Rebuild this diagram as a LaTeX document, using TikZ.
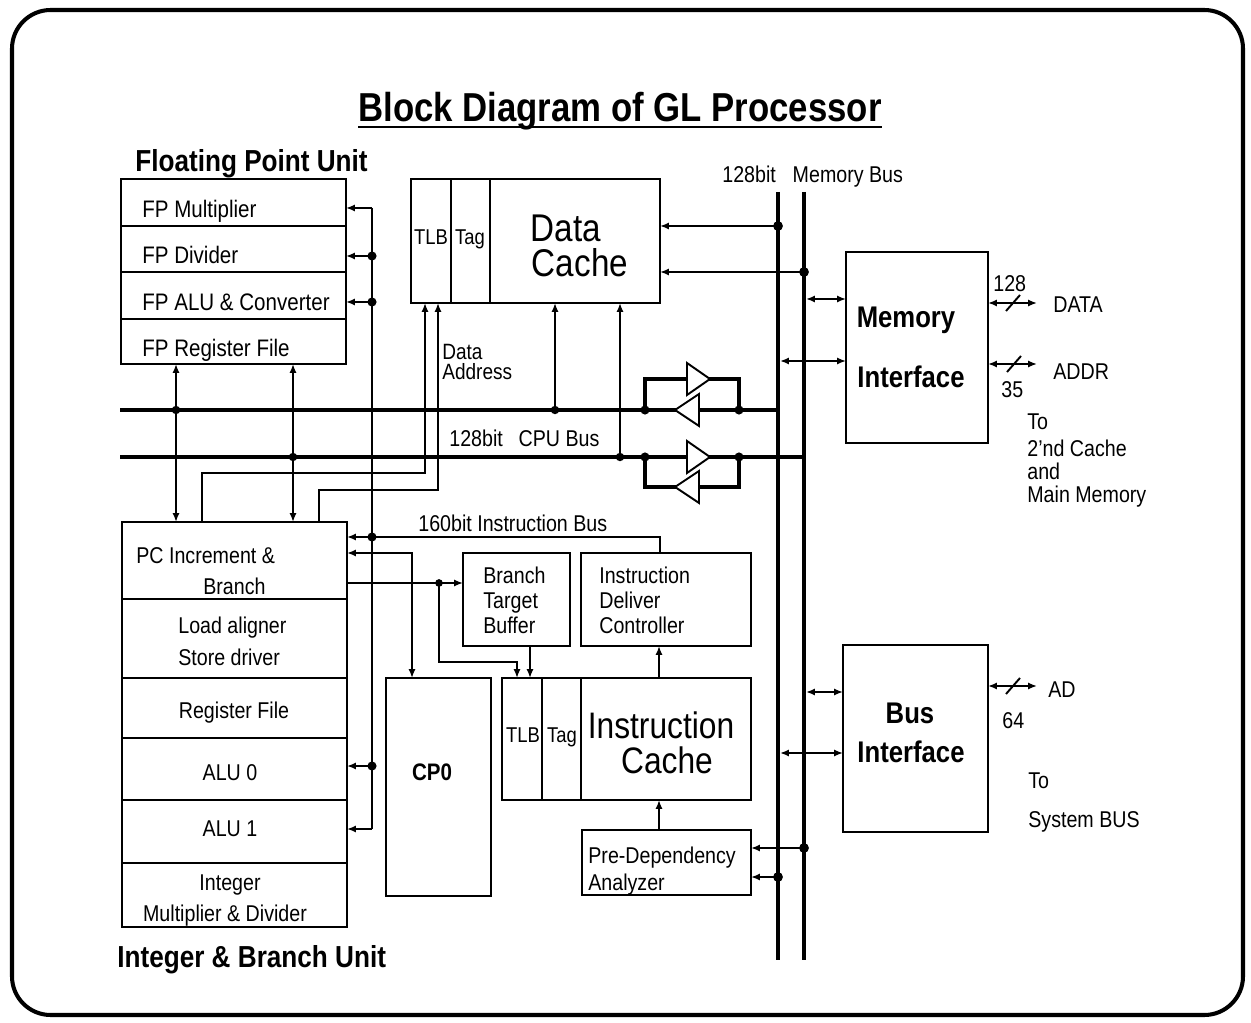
\documentclass[tikz,border=0pt]{standalone}
\usepackage{fontspec}
\setmainfont{Liberation Sans}[FakeStretch=0.86]
\usetikzlibrary{arrows.meta,fit}
\newcommand\fz[1]{\fontsize{#1pt}{#1pt}\selectfont}
\begin{document}
\begin{tikzpicture}[x=0.02cm,y=-0.02cm,
  box/.style={draw,line width=1.3pt,inner sep=0pt,outer sep=0pt},
  lbl/.style={inner sep=0pt,font=\fz{13}},
  fplbl/.style={inner sep=0pt,font=\fz{13.6},anchor=base west},
  wire/.style={line width=1.1pt},
  arr/.style={-{Latex[length=5pt,width=4pt]}},
  arrs/.style={{Latex[length=5pt,width=4pt]}-{Latex[length=5pt,width=4pt]}},
  bus/.style={line width=2.8pt},
  bypass/.style={line width=2pt},
  mbus/.style={line width=2.6pt},
  tri/.style={draw,fill=white,line width=1.1pt,line join=miter},
  dot/.style={fill=black},
  slash/.style={line width=1.1pt}]
\useasboundingbox (0,0) rectangle (1251,1023);
% frame
\draw[line width=2.3pt,rounded corners=22pt] (12,10) rectangle (1243,1015);

% title
\node[inner sep=0pt,anchor=base west,font=\bfseries\fz{23}] (title) at (358,122) {Block Diagram of GL Processor};
\draw[line width=1.6pt] ([yshift=-2.8pt]title.base west) -- ([yshift=-2.8pt]title.base east);

% ---------- Floating point unit
\node[inner sep=0pt,anchor=base west,font=\bfseries\fz{17.3}] (fputitle) at (135,172) {Floating Point Unit};
\node[box,fit={(121,179)(346,364)}] (fpu) {};
\node[box,fit={(121,179)(346,226)}] (fpmul) {};
\node[box,fit={(121,226)(346,272)}] (fpdiv) {};
\node[box,fit={(121,272)(346,319)}] (fpalu) {};
\node[box,fit={(121,319)(346,364)}] (fpreg) {};
\node[fplbl] (lfpmul) at (142,218) {FP Multiplier};
\node[fplbl] (lfpdiv) at (142,264) {FP Divider};
\node[fplbl] (lfpalu) at (142,311) {FP ALU \& Converter};
\node[fplbl] (lfpreg) at (142,357) {FP Register File};

% ---------- Integer & branch unit
\node[box,fit={(122,522)(347,927)}] (ibu) {};
\node[box,fit={(122,522)(347,599)}] (pc) {};
\node[box,fit={(122,599)(347,678)}] (ld) {};
\node[box,fit={(122,678)(347,738)}] (rf) {};
\node[box,fit={(122,738)(347,800)}] (alu0) {};
\node[box,fit={(122,800)(347,863)}] (alu1) {};
\node[box,fit={(122,863)(347,927)}] (imd) {};
\node[lbl,anchor=base west] (lpc1) at (136,563) {PC Increment \&};
\node[lbl,anchor=base west] (lpc2) at (203,595) {Branch};
\node[lbl,anchor=base west] (lld1) at (178,633) {Load aligner};
\node[lbl,anchor=base west] (lld2) at (178,665) {Store driver};
\node[lbl,anchor=base] (lrf) at (234,718) {Register File};
\node[lbl,anchor=base] (lalu0) at (230,780) {ALU 0};
\node[lbl,anchor=base] (lalu1) at (230,836) {ALU 1};
\node[lbl,anchor=base] (limd1) at (230,890) {Integer};
\node[lbl,anchor=base] (limd2) at (225,921) {Multiplier \& Divider};
\node[inner sep=0pt,anchor=base west,font=\bfseries\fz{17.3}] (ibutitle) at (117,967) {Integer \& Branch Unit};

% ---------- CP0
\node[box,fit={(386,678)(491,896)}] (cp0) {};
\node[inner sep=0pt,anchor=base,font=\bfseries\fz{13.6}] (lcp0) at (432,780) {CP0};

% ---------- Data cache
\node[box,fit={(411,179)(660,303)}] (dc) {};
\node[box,fit={(411,179)(451,303)}] (dctlb) {};
\node[box,fit={(451,179)(490,303)}] (dctag) {};
\node[lbl,anchor=base,font=\fz{12.2}] (ldctlb) at (431,245) {TLB};
\node[lbl,anchor=base,font=\fz{12.2}] (ldctag) at (470,245) {Tag};
\node[lbl,anchor=base,font=\fz{22}] (ldc1) at (566,242) {Data};
\node[lbl,anchor=base,font=\fz{22}] (ldc2) at (580,277) {Cache};

% ---------- Branch target buffer / instruction deliver controller
\node[box,fit={(463,553)(570,646)}] (btb) {};
\node[lbl,anchor=base west] (lbtb1) at (483,583) {Branch};
\node[lbl,anchor=base west] (lbtb2) at (483,608) {Target};
\node[lbl,anchor=base west] (lbtb3) at (483,633) {Buffer};
\node[box,fit={(581,553)(751,646)}] (idc) {};
\node[lbl,anchor=base west] (lidc1) at (599,583) {Instruction};
\node[lbl,anchor=base west] (lidc2) at (599,608) {Deliver};
\node[lbl,anchor=base west] (lidc3) at (599,633) {Controller};

% ---------- Instruction cache
\node[box,fit={(502,678)(751,800)}] (ic) {};
\node[box,fit={(502,678)(542,800)}] (ictlb) {};
\node[box,fit={(542,678)(581,800)}] (ictag) {};
\node[lbl,anchor=base,font=\fz{12.2}] (lictlb) at (523,742) {TLB};
\node[lbl,anchor=base,font=\fz{12.2}] (lictag) at (562,742) {Tag};
\node[lbl,anchor=base,font=\fz{21}] (lic1) at (661,738) {Instruction};
\node[lbl,anchor=base,font=\fz{21}] (lic2) at (667,773) {Cache};

% ---------- Pre-dependency analyzer
\node[box,fit={(582,830)(751,895)}] (pda) {};
\node[lbl,anchor=base west] (lpda1) at (588,863) {Pre-Dependency};
\node[lbl,anchor=base west] (lpda2) at (588,890) {Analyzer};

% ---------- Memory interface / Bus interface
\node[box,fit={(846,252)(988,443)}] (mi) {};
\node[inner sep=0pt,anchor=base,font=\bfseries\fz{17}] (lmi1) at (906,328) {Memory};
\node[inner sep=0pt,anchor=base,font=\bfseries\fz{17}] (lmi2) at (911,388) {Interface};
\node[box,fit={(843,645)(988,832)}] (bi) {};
\node[inner sep=0pt,anchor=base,font=\bfseries\fz{17}] (lbi1) at (910,723) {Bus};
\node[inner sep=0pt,anchor=base,font=\bfseries\fz{17}] (lbi2) at (911,762) {Interface};

% ---------- Memory bus
\coordinate (mbLt) at (778,192);
\coordinate (mbLb) at (778,960);
\coordinate (mbRt) at (804,192);
\coordinate (mbRb) at (804,960);
\draw[mbus] (mbLt) -- (mbLb);
\draw[mbus] (mbRt) -- (mbRb);
\node[lbl,anchor=base west] (lmb) at (722,183) {128bit\hspace{0.5em} Memory Bus};

% ---------- CPU buses
\coordinate (cb1L) at (120,410);
\coordinate (cb1R) at (778,410);
\coordinate (cb2L) at (120,457);
\coordinate (cb2R) at (804,457);
\draw[bus] (cb1L) -- (cb1R);
\draw[bus] (cb2L) -- (cb2R);
\node[lbl,anchor=base west] (lcb) at (449,447) {128bit\hspace{0.45em} CPU Bus};

% bidirectional buffers
\coordinate (bu1) at (645,410);
\coordinate (bu2) at (739,410);
\coordinate (bu3) at (645,379);
\coordinate (bu4) at (739,379);
\draw[bypass] (bu1) -- (bu3) -- (bu4) -- (bu2);
\fill[dot] (bu1) circle (2.6pt);
\fill[dot] (bu2) circle (2.6pt);
\draw[tri] (687,363) -- (710,379) -- (687,395) -- cycle;
\draw[tri] (699,394) -- (675,410) -- (699,426) -- cycle;
\coordinate (bl1) at (645,457);
\coordinate (bl2) at (739,457);
\coordinate (bl3) at (645,487);
\coordinate (bl4) at (739,487);
\draw[bypass] (bl1) -- (bl3) -- (bl4) -- (bl2);
\fill[dot] (bl1) circle (2.6pt);
\fill[dot] (bl2) circle (2.6pt);
\draw[tri] (687,441) -- (710,457) -- (687,473) -- cycle;
\draw[tri] (699,471) -- (675,487) -- (699,503) -- cycle;

% ---------- FP register file <-> integer unit
\coordinate (fr1) at (176,410);
\coordinate (fr2) at (293,457);
\draw[wire,arrs] (fr1 |- fpreg.south) -- (fr1 |- ibu.north);
\draw[wire,arrs] (fr2 |- fpreg.south) -- (fr2 |- ibu.north);
\fill[dot] (fr1) circle (2.4pt);
\fill[dot] (fr2) circle (2.4pt);

% ---------- data address lines to DC TLB
\coordinate (tl1a) at (425,473);
\coordinate (tl1b) at (202,473);
\coordinate (tl2a) at (438,490);
\coordinate (tl2b) at (319,490);
\draw[wire,arr] (tl1b |- ibu.north) -- (tl1b) -- (tl1a) -- (tl1a |- dc.south);
\draw[wire,arr] (tl2b |- ibu.north) -- (tl2b) -- (tl2a) -- (tl2a |- dc.south);
\node[lbl,anchor=base west,font=\fz{12.6}] (lda1) at (442,360) {Data};
\node[lbl,anchor=base west,font=\fz{12.6}] (lda2) at (442,380) {Address};

% DC <-> CPU buses
\coordinate (dcb1) at (555,410);
\coordinate (dcb2) at (620,457);
\draw[wire,arr] (dcb1) -- (dcb1 |- dc.south);
\draw[wire,arr] (dcb2) -- (dcb2 |- dc.south);
\fill[dot] (dcb1) circle (2.4pt);
\fill[dot] (dcb2) circle (2.4pt);

% DC <- memory bus
\coordinate (dcr1) at (778,226);
\coordinate (dcr2) at (804,272);
\draw[wire,arr] (dcr1) -- (dcr1 -| dc.east);
\draw[wire,arr] (dcr2) -- (dcr2 -| dc.east);
\fill[dot] (dcr1) circle (2.8pt);
\fill[dot] (dcr2) circle (2.8pt);

% ---------- 160bit instruction bus
\coordinate (ibT) at (372,208);
\coordinate (ibD) at (372,256);
\coordinate (ibA) at (372,302);
\coordinate (ibP) at (372,537);
\coordinate (ibA0) at (372,766);
\coordinate (ibB) at (372,829);
\coordinate (ibC) at (660,537);
\draw[wire] (ibT) -- (ibB);
\draw[wire,arr] (ibT) -- (ibT -| fpmul.east);
\draw[wire,arr] (ibD) -- (ibD -| fpdiv.east);
\draw[wire,arr] (ibA) -- (ibA -| fpalu.east);
\draw[wire,arr] (ibP) -- (ibP -| pc.east);
\draw[wire,arr] (ibA0) -- (ibA0 -| alu0.east);
\draw[wire,arr] (ibB) -- (ibB -| alu1.east);
\draw[wire] (ibP) -- (ibC) -- (ibC |- idc.north);
\fill[dot] (ibD) circle (2.6pt);
\fill[dot] (ibA) circle (2.6pt);
\fill[dot] (ibP) circle (2.6pt);
\fill[dot] (ibA0) circle (2.6pt);
\node[lbl,anchor=base west] (lib) at (418,532) {160bit Instruction Bus};

% PC <-> CP0
\coordinate (cpA) at (412,553);
\draw[wire,arrs] (cpA -| pc.east) -- (cpA) -- (cpA |- cp0.north);

% PC -> BTB, -> IC TLB
\coordinate (btbJ) at (439,583);
\coordinate (btbK) at (439,662);
\coordinate (btbL) at (517,662);
\coordinate (btbB) at (530,646);
\draw[wire,arr] (btbJ -| pc.east) -- (btbJ -| btb.west);
\draw[wire,arr] (btbJ) -- (btbK) -- (btbL) -- (btbL |- ic.north);
\draw[wire,arr] (btbB) -- (btbB |- ic.north);
\fill[dot] (btbJ) circle (2.2pt);

% IC -> IDC ; PDA -> IC
\coordinate (icI) at (659,678);
\coordinate (pdI) at (659,830);
\draw[wire,arr] (icI) -- (icI |- idc.south);
\draw[wire,arr] (pdI) -- (pdI |- ic.south);

% memory bus -> PDA
\coordinate (pdr1) at (804,848);
\coordinate (pdr2) at (778,877);
\draw[wire,arr] (pdr1) -- (pdr1 -| pda.east);
\draw[wire,arr] (pdr2) -- (pdr2 -| pda.east);
\fill[dot] (pdr1) circle (2.8pt);
\fill[dot] (pdr2) circle (2.8pt);

% memory bus <-> memory interface / bus interface
\coordinate (miA) at (806,299);
\coordinate (miB) at (780,361);
\coordinate (biA) at (806,692);
\coordinate (biB) at (780,753);
\draw[wire,arrs] (miA) -- (miA -| mi.west);
\draw[wire,arrs] (miB) -- (miB -| mi.west);
\draw[wire,arrs] (biA) -- (biA -| bi.west);
\draw[wire,arrs] (biB) -- (biB -| bi.west);

% external signals
\coordinate (miD) at (1037,303);
\coordinate (miE) at (1037,364);
\coordinate (biD) at (1037,686);
\draw[wire,arrs] (miD -| mi.east) -- (miD);
\draw[wire,arrs] (miE -| mi.east) -- (miE);
\draw[wire,arrs] (biD -| bi.east) -- (biD);
\draw[slash] ([shift={(-7,8)}]miD -| 1013,0) -- ([shift={(7,-8)}]miD -| 1013,0);
\draw[slash] ([shift={(-7,8)}]miE -| 1014,0) -- ([shift={(7,-8)}]miE -| 1014,0);
\draw[slash] ([shift={(-7,8)}]biD -| 1013,0) -- ([shift={(7,-8)}]biD -| 1013,0);
\node[lbl,anchor=base west] (l128) at (993,292) {128};
\node[lbl,anchor=base west] (ldata) at (1053,313) {DATA};
\node[lbl,anchor=base west] (laddr) at (1053,380) {ADDR};
\node[lbl,anchor=base west] (l35) at (1001,398) {35};
\node[lbl,anchor=base west] (lto1) at (1027,430) {To};
\node[lbl,anchor=base west] (lto2) at (1027,457) {2'nd Cache};
\node[lbl,anchor=base west] (lto3) at (1027,480) {and};
\node[lbl,anchor=base west] (lto4) at (1027,503) {Main Memory};
\node[lbl,anchor=base west] (lad) at (1048,697) {AD};
\node[lbl,anchor=base west] (l64) at (1002,728) {64};
\node[lbl,anchor=base west] (lsb1) at (1028,788) {To};
\node[lbl,anchor=base west] (lsb2) at (1028,827) {System BUS};
\end{tikzpicture}
\end{document}
